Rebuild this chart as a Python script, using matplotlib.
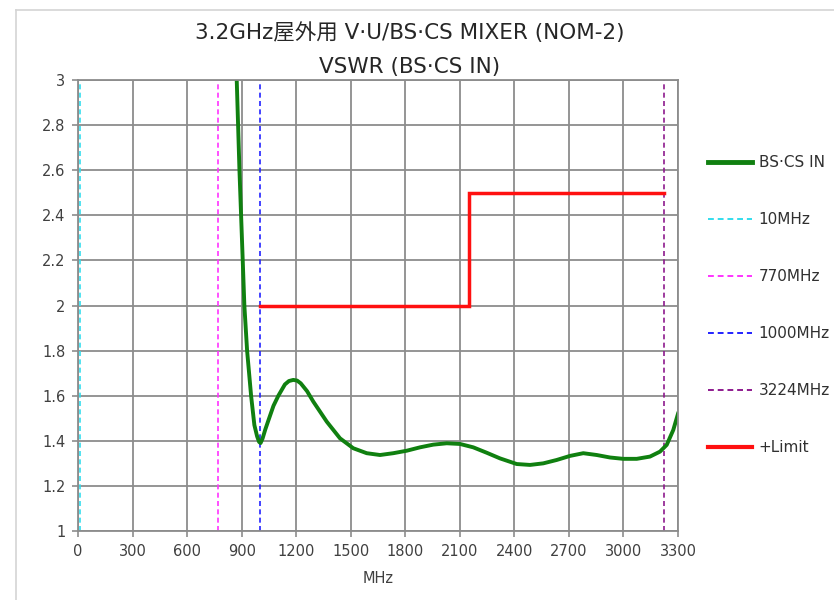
import matplotlib
matplotlib.use('Agg')
import matplotlib.pyplot as plt
from matplotlib.lines import Line2D
import numpy as np

plt.rcParams['font.family'] = ['DejaVu Sans', 'Noto Sans CJK JP']

freq_mhz = [860, 873, 888, 897, 906, 915, 930, 952, 970, 985, 996, 1004, 1015,
            1030, 1047, 1075, 1102, 1138, 1160, 1184, 1205, 1225, 1260, 1294,
            1368, 1441, 1514, 1588, 1661, 1734, 1808, 1881, 1954, 2028, 2101,
            2174, 2248, 2321, 2413, 2486, 2559, 2633, 2706, 2779, 2853, 2926,
            2999, 3073, 3146, 3201, 3238, 3274, 3300]
vswr = [3.25, 3.0, 2.6, 2.4, 2.2, 2.0, 1.8, 1.6, 1.47, 1.42, 1.395, 1.39, 1.41,
        1.45, 1.49, 1.555, 1.60, 1.65, 1.665, 1.67, 1.667, 1.655, 1.62, 1.574,
        1.485, 1.411, 1.367, 1.345, 1.337, 1.345, 1.356, 1.371, 1.383, 1.389, 1.386,
        1.371, 1.347, 1.322, 1.297, 1.293, 1.30, 1.315, 1.333, 1.345, 1.337, 1.326,
        1.32, 1.32, 1.33, 1.352, 1.382, 1.448, 1.52]

# upper limit
limit_x = [1000, 2150, 2150, 3224]
limit_y = [2.0, 2.0, 2.5, 2.5]

# marker frequencies
marker_mhz = [10, 770, 1000, 3224]
marker_labels = ['10MHz', '770MHz', '1000MHz', '3224MHz']
marker_colors = ['#33dded', '#ff33ff', '#2222ff', '#8e1a8e']

x_ticks = np.arange(0, 3301, 300)
y_ticks = np.round(np.arange(1.0, 3.01, 0.2), 1)

fig = plt.figure(figsize=(8.34, 6.0), dpi=100)
ax = fig.add_axes([78 / 834, 1 - 531 / 600, 600 / 834, 451 / 600])

# frame around the chart area
fig.add_artist(Line2D([16 / 834, 16 / 834], [0, 1 - 10 / 600], color='#d4d4d4', lw=1.2))
fig.add_artist(Line2D([16 / 834, 1], [1 - 10 / 600, 1 - 10 / 600], color='#d4d4d4', lw=1.2))

grid_c = '#8c8c8c'
ax.set_xlim(0, 3300)
ax.set_ylim(1, 3)
ax.set_xticks(x_ticks)
ax.set_yticks(y_ticks)
ax.set_yticklabels([('%g' % v) for v in y_ticks])
ax.grid(True, color=grid_c, lw=1.3)
ax.set_axisbelow(True)
for s in ax.spines.values():
    s.set_color(grid_c)
    s.set_linewidth(1.3)
ax.tick_params(direction='out', length=4, width=1.2, color=grid_c,
               labelsize=10.5, labelcolor='#404040', pad=5)

for m, c in zip(marker_mhz, marker_colors):
    ax.axvline(m, color=c, lw=1.2, linestyle=(0, (3, 2)))

ax.plot(limit_x, limit_y, color='#ff1010', lw=2.5, solid_joinstyle='miter')
ax.plot(freq_mhz, vswr, color='#108010', lw=2.8, solid_joinstyle='round')

ax.set_xlabel('MHz', fontsize=10.5, color='#404040', labelpad=9)

fig.text(410 / 834, 1 - 33 / 600, '3.2GHz屋外用 V·U/BS·CS MIXER (NOM-2)',
         ha='center', va='center', fontsize=15.5, color='#262626')
fig.text(410 / 834, 1 - 67 / 600, 'VSWR (BS·CS IN)',
         ha='center', va='center', fontsize=15.5, color='#262626')

handles = [Line2D([], [], color='#108010', lw=3.5)]
labels = ['BS·CS IN']
for lab, c in zip(marker_labels, marker_colors):
    handles.append(Line2D([], [], color=c, lw=1.4, linestyle=(0, (3, 2))))
    labels.append(lab)
handles.append(Line2D([], [], color='#ff1010', lw=3.0))
labels.append('+Limit')

fig.legend(handles, labels, loc='upper left', bbox_to_anchor=(702 / 834, 1 - 149 / 600),
           frameon=False, fontsize=11, labelspacing=2.75, handlelength=2.9,
           handletextpad=0.4, borderaxespad=0, labelcolor='#303030')

fig.savefig('out.png', dpi=100)
